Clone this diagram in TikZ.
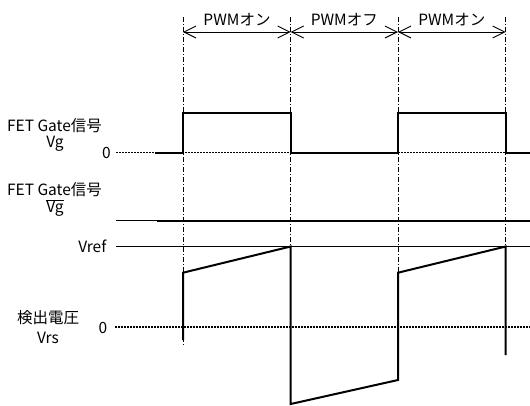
\documentclass[tikz,border=0pt]{standalone}
\usepackage{fontspec}
\setmainfont{Noto Sans CJK JP}
\usetikzlibrary{arrows.meta}
\tikzset{
  lbl/.style={font=\fontsize{15.5}{17}\selectfont, inner sep=0pt, anchor=center},
  sig/.style={line width=2pt, line join=miter},
  guide/.style={line width=0.7pt, dash pattern=on 5pt off 2pt on 1pt off 2pt},
  zerothin/.style={line width=1.3pt, dash pattern=on 2.2pt off 0.8pt},
  zerothick/.style={line width=2.2pt, dash pattern=on 2.2pt off 0.8pt},
  refline/.style={line width=0.9pt},
  span/.style={line width=0.9pt, {Straight Barb[length=12pt,width=12pt]}-{Straight Barb[length=12pt,width=12pt]}}
}
\begin{document}
\begin{tikzpicture}[x=1pt,y=-1pt]
\useasboundingbox (0,0) rectangle (530,405);
% time coordinates
\coordinate (t1top) at (183,17);
\coordinate (t2top) at (290.7,17);
\coordinate (t3top) at (398,17);
\coordinate (t4top) at (505.7,17);
\coordinate (t1bot) at (183,346);
\coordinate (t2bot) at (290.7,404);
\coordinate (t3bot) at (398,380);
\coordinate (t4bot) at (505.7,355);
% guide lines
\draw[guide] (t1top) -- (t1bot);
\draw[guide] (t2top) -- (t2bot);
\draw[guide] (t3top) -- (t3bot);
\draw[guide] (t4top) -- (t4bot);
% span arrows
\coordinate (a1) at (183,32);
\coordinate (a2) at (290.7,32);
\coordinate (a3) at (398,32);
\coordinate (a4) at (505.7,32);
\draw[span] (a1) -- (a2);
\draw[span] (a2) -- (a3);
\draw[span] (a3) -- (a4);
\node[lbl] (pwm1) at (237,19.5) {PWMオン};
\node[lbl] (pwm2) at (344.3,19.5) {PWMオフ};
\node[lbl] (pwm3) at (451.8,19.5) {PWMオン};
% Vg
\node[lbl] (vgname) at (54.5,126) {FET Gate信号};
\node[lbl] (vg) at (55,144) {Vg};
\node[lbl] (vgzero) at (106.5,153) {0};
\coordinate (vgz0) at (116,152.5);
\coordinate (vgz1) at (530,152.5);
\draw[zerothin] (vgz0) -- (vgz1);
\draw[sig] (155,152.5) -- (183,152.5) -- (183,112.7) -- (290.7,112.7) -- (290.7,152.5)
  -- (398,152.5) -- (398,112.7) -- (505.7,112.7) -- (505.7,152.5) -- (530,152.5);
% Vg bar
\node[lbl] (vgbname) at (54.5,190) {FET Gate信号};
\node[lbl] (vgb) at (55,208) {$\overline{\mbox{Vg}}$};
\coordinate (vgb0) at (116,220.5);
\coordinate (vgb1) at (157,220.5);
\coordinate (vgb2) at (530,220.5);
\draw[refline] (vgb0) -- (vgb1);
\draw[sig] (vgb1) -- (vgb2);
% Vref
\node[lbl, anchor=east] (vref) at (106.5,246) {Vref};
\coordinate (vr0) at (116,246.5);
\coordinate (vr1) at (530,246.5);
\draw[refline] (vr0) -- (vr1);
% Vrs
\node[lbl] (vrsname) at (48,318) {検出電圧};
\node[lbl] (vrs) at (48,337.5) {Vrs};
\node[lbl] (vrszero) at (103,327.5) {0};
\coordinate (vz0) at (115,327.3);
\coordinate (vz1) at (530,327.3);
\draw[zerothick] (vz0) -- (vz1);
\draw[sig] (183,340) -- (183,272.7) -- (290.7,246.5) -- (290.7,404) -- (398,380)
  -- (398,272.7) -- (505.7,246.5) -- (505.7,355);
\end{tikzpicture}
\end{document}
